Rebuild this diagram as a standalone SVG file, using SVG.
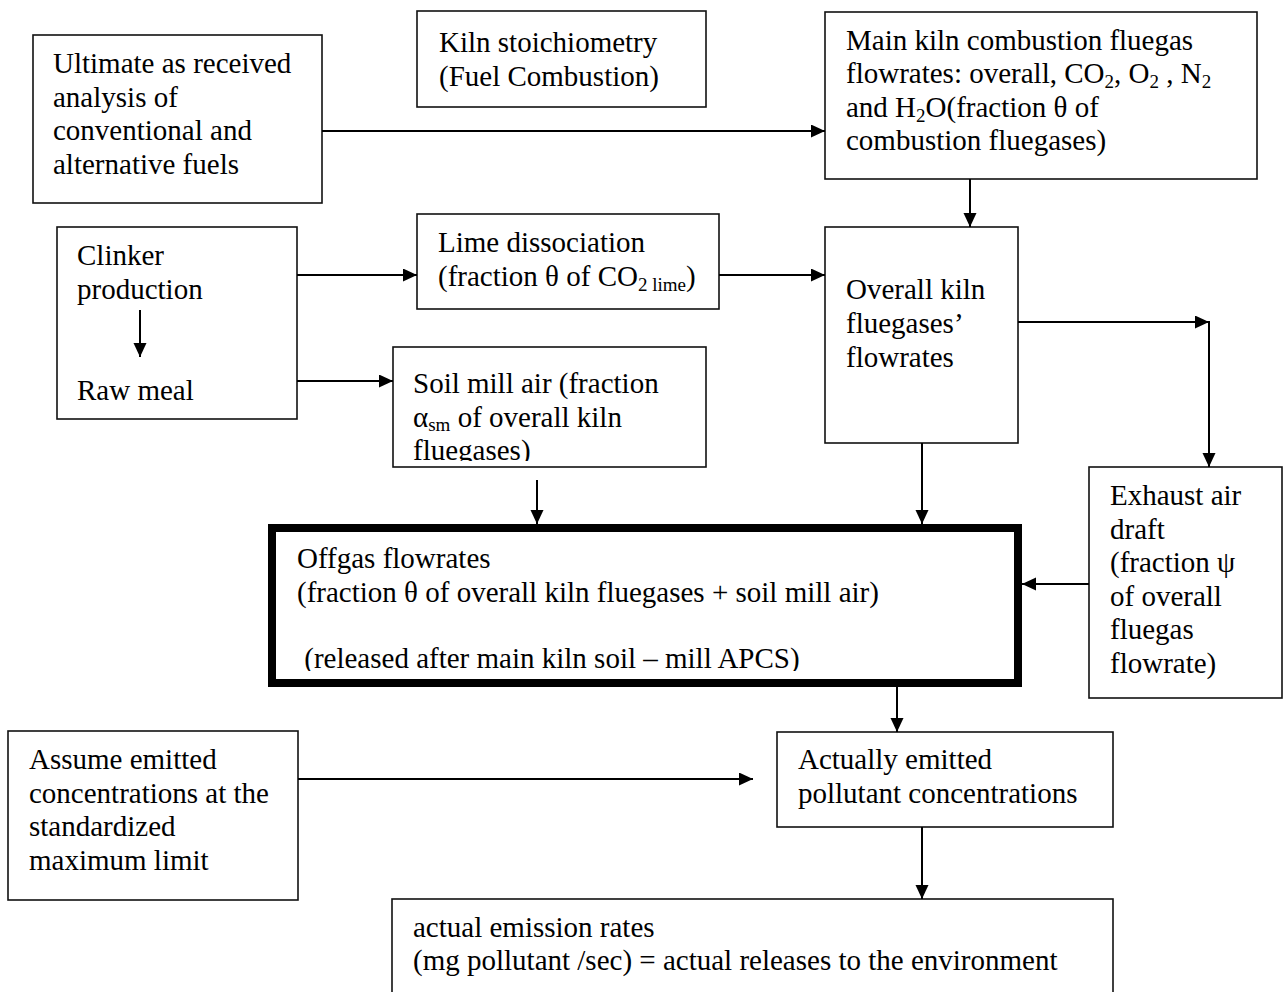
<svg xmlns="http://www.w3.org/2000/svg" width="1284" height="992" viewBox="0 0 1284 992">
<style>
.box{fill:#fff;stroke:#111;stroke-width:1.6}
.thick{fill:#fff;stroke:#000;stroke-width:8}
.t{font-family:"Liberation Serif","Times New Roman",serif;font-size:29px;fill:#000}
.s{font-size:19px}
.c{stroke:#000;stroke-width:2;fill:none;marker-end:url(#ah)}
</style>
<defs>
<marker id="ah" markerUnits="userSpaceOnUse" markerWidth="15" markerHeight="14" refX="14" refY="6.5" orient="auto">
<path d="M0,0 L14,6.5 L0,13 z" fill="#000"/>
</marker>
<clipPath id="clipSoil"><rect x="393" y="347" width="313" height="114"/></clipPath>
<clipPath id="clipOff"><rect x="276" y="532" width="738" height="139"/></clipPath>
</defs>

<g id="node-ultimate">
<rect class="box" x="33" y="35" width="289" height="168"/>
<text class="t" x="53" y="73">Ultimate as received</text>
<text class="t" x="53" y="106.5">analysis of</text>
<text class="t" x="53" y="140">conventional and</text>
<text class="t" x="53" y="173.5">alternative fuels</text>
</g>

<g id="node-kiln-stoich">
<rect class="box" x="417" y="11" width="289" height="96"/>
<text class="t" x="439" y="52">Kiln stoichiometry</text>
<text class="t" x="439" y="85.5">(Fuel Combustion)</text>
</g>

<g id="node-main-kiln">
<rect class="box" x="825" y="12" width="432" height="167"/>
<text class="t" x="846" y="49.5">Main kiln combustion fluegas</text>
<text class="t" x="846" y="83">flowrates: overall, CO<tspan class="s" dy="5">2</tspan><tspan dy="-5">, O</tspan><tspan class="s" dy="5">2</tspan><tspan dy="-5"> , N</tspan><tspan class="s" dy="5">2</tspan></text>
<text class="t" x="846" y="116.5">and H<tspan class="s" dy="5">2</tspan><tspan dy="-5">O(fraction θ of</tspan></text>
<text class="t" x="846" y="150">combustion fluegases)</text>
</g>

<g id="node-clinker">
<rect class="box" x="57" y="227" width="240" height="192"/>
<text class="t" x="77" y="265">Clinker</text>
<text class="t" x="77" y="299">production</text>
<text class="t" x="77" y="400">Raw meal</text>
<line class="c" x1="140" y1="310" x2="140" y2="357"/>
</g>

<g id="node-lime">
<rect class="box" x="417" y="214" width="302" height="95"/>
<text class="t" x="438" y="252">Lime dissociation</text>
<text class="t" x="438" y="285.5">(fraction θ of CO<tspan class="s" dy="5">2 lime</tspan><tspan dy="-5">)</tspan></text>
</g>

<g id="node-soil">
<rect class="box" x="393" y="347" width="313" height="120"/>
<g clip-path="url(#clipSoil)">
<text class="t" x="413" y="393">Soil mill air (fraction</text>
<text class="t" x="413" y="426.5">α<tspan class="s" dy="4">sm</tspan><tspan dy="-4"> of overall kiln</tspan></text>
<text class="t" x="413" y="460">fluegases)</text>
</g>
</g>

<g id="node-overall">
<rect class="box" x="825" y="227" width="193" height="216"/>
<text class="t" x="846" y="299">Overall kiln</text>
<text class="t" x="846" y="333">fluegases’</text>
<text class="t" x="846" y="367">flowrates</text>
</g>

<g id="node-offgas">
<rect class="thick" x="272" y="528" width="746" height="155"/>
<g clip-path="url(#clipOff)">
<text class="t" x="297" y="568">Offgas flowrates</text>
<text class="t" x="297" y="601.5">(fraction θ of overall kiln fluegases + soil mill air)</text>
<text class="t" x="297" y="668" xml:space="preserve"> (released after main kiln soil – mill APCS)</text>
</g>
</g>

<g id="node-exhaust">
<rect class="box" x="1089" y="467" width="193" height="231"/>
<text class="t" x="1110" y="505">Exhaust air</text>
<text class="t" x="1110" y="538.5">draft</text>
<text class="t" x="1110" y="572">(fraction ψ</text>
<text class="t" x="1110" y="605.5">of overall</text>
<text class="t" x="1110" y="639">fluegas</text>
<text class="t" x="1110" y="672.5">flowrate)</text>
</g>

<g id="node-assume">
<rect class="box" x="8" y="731" width="290" height="169"/>
<text class="t" x="29" y="769">Assume emitted</text>
<text class="t" x="29" y="802.5">concentrations at the</text>
<text class="t" x="29" y="836">standardized</text>
<text class="t" x="29" y="869.5">maximum limit</text>
</g>

<g id="node-actually">
<rect class="box" x="777" y="732" width="336" height="95"/>
<text class="t" x="798" y="769">Actually emitted</text>
<text class="t" x="798" y="802.5">pollutant concentrations</text>
</g>

<g id="node-rates">
<rect class="box" x="392" y="899" width="721" height="110"/>
<text class="t" x="413" y="937">actual emission rates</text>
<text class="t" x="413" y="970">(mg pollutant /sec) = actual releases to the environment</text>
</g>

<g id="connectors">
<line class="c" x1="322" y1="131" x2="825" y2="131"/>
<line class="c" x1="970" y1="179" x2="970" y2="227"/>
<line class="c" x1="297" y1="275" x2="417" y2="275"/>
<line class="c" x1="719" y1="275" x2="825" y2="275"/>
<line class="c" x1="297" y1="381" x2="393" y2="381"/>
<line class="c" x1="1018" y1="322" x2="1209" y2="322"/>
<line class="c" x1="1209" y1="321" x2="1209" y2="467"/>
<line class="c" x1="922" y1="443" x2="922" y2="524"/>
<line class="c" x1="537" y1="480" x2="537" y2="524"/>
<line class="c" x1="1089" y1="584" x2="1022" y2="584"/>
<line class="c" x1="897" y1="687" x2="897" y2="732"/>
<line class="c" x1="298" y1="779" x2="753" y2="779"/>
<line class="c" x1="922" y1="827" x2="922" y2="899"/>
</g>
</svg>
